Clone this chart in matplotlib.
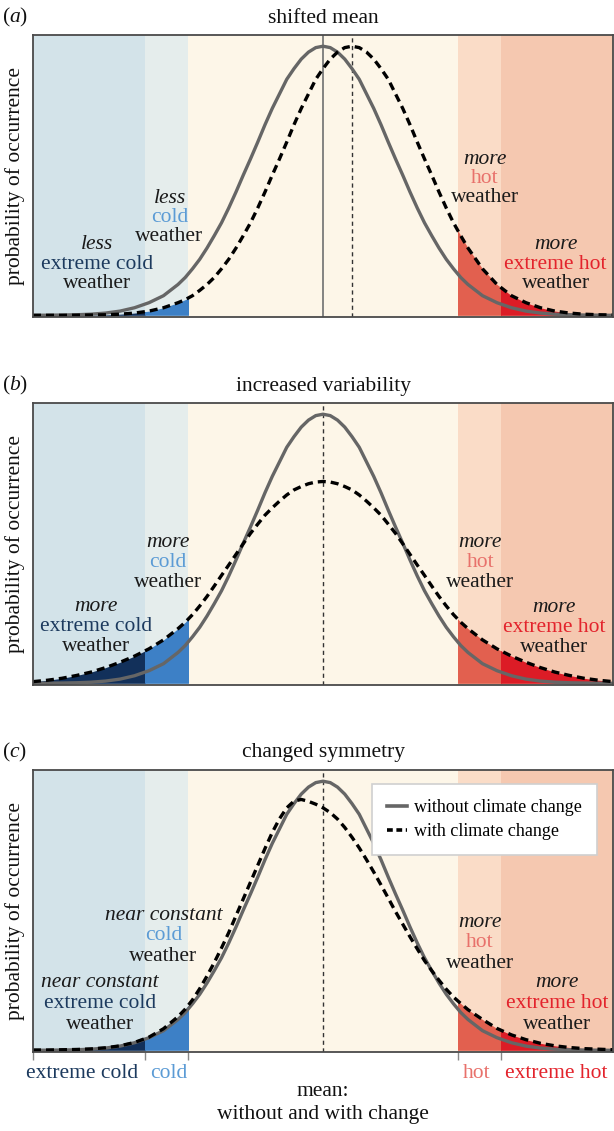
import matplotlib.pyplot as plt
from matplotlib.patches import Rectangle
from matplotlib.lines import Line2D

plt.rcParams['font.family'] = 'serif'
plt.rcParams['font.serif'] = ['Liberation Serif', 'DejaVu Serif']
plt.rcParams['mathtext.fontset'] = 'custom'
plt.rcParams['mathtext.rm'] = 'Liberation Serif'
plt.rcParams['mathtext.it'] = 'Liberation Serif:italic'

# temperature axis, mean (without change) at 0
x = [-4.0, -3.8, -3.6, -3.4, -3.2, -3.0, -2.8, -2.6, -2.4, -2.2,
     -2.0, -1.9, -1.8, -1.7, -1.6, -1.5, -1.4, -1.3, -1.2, -1.1,
     -1.0, -0.9, -0.8, -0.7, -0.6, -0.5, -0.4, -0.3, -0.2, -0.1,
     0.0,
     0.1, 0.2, 0.3, 0.4, 0.5, 0.6, 0.7, 0.8, 0.9, 1.0,
     1.1, 1.2, 1.3, 1.4, 1.5, 1.6, 1.7, 1.8, 1.9, 2.0,
     2.2, 2.4, 2.6, 2.8, 3.0, 3.2, 3.4, 3.6, 3.8, 4.0]

# probability of occurrence (fraction of the axes height)
without_change = [0.0, 0.0005, 0.001, 0.002, 0.004, 0.008, 0.015, 0.027, 0.045, 0.07,
                  0.11, 0.135, 0.166, 0.20, 0.24, 0.284, 0.33, 0.383, 0.44, 0.50,
                  0.558, 0.618, 0.68, 0.738, 0.79, 0.842, 0.88, 0.914, 0.939, 0.955,
                  0.96,
                  0.955, 0.939, 0.914, 0.88, 0.842, 0.79, 0.738, 0.68, 0.618, 0.558,
                  0.50, 0.44, 0.383, 0.33, 0.284, 0.24, 0.20, 0.166, 0.135, 0.11,
                  0.07, 0.045, 0.027, 0.015, 0.008, 0.004, 0.002, 0.001, 0.0005, 0.0]

shifted_mean = [0.0, 0.0, 0.0, 0.0005, 0.001, 0.002, 0.004, 0.008, 0.015, 0.027,
                0.045, 0.056, 0.07, 0.089, 0.11, 0.135, 0.166, 0.20, 0.24, 0.284,
                0.33, 0.383, 0.44, 0.50, 0.558, 0.618, 0.68, 0.738, 0.79, 0.842,
                0.88,
                0.914, 0.939, 0.955, 0.96, 0.955, 0.939, 0.914, 0.88, 0.842, 0.79,
                0.738, 0.68, 0.618, 0.558, 0.50, 0.44, 0.383, 0.33, 0.284, 0.24,
                0.166, 0.11, 0.07, 0.045, 0.027, 0.015, 0.008, 0.004, 0.002, 0.001]

increased_variability = [0.006, 0.011, 0.018, 0.028, 0.04, 0.056, 0.075, 0.097, 0.123, 0.155,
                         0.195, 0.218, 0.245, 0.276, 0.31, 0.347, 0.385, 0.422, 0.46, 0.498,
                         0.535, 0.568, 0.60, 0.626, 0.65, 0.672, 0.69, 0.702, 0.712, 0.718,
                         0.72,
                         0.718, 0.712, 0.702, 0.69, 0.672, 0.65, 0.626, 0.60, 0.568, 0.535,
                         0.498, 0.46, 0.422, 0.385, 0.347, 0.31, 0.276, 0.245, 0.218, 0.195,
                         0.155, 0.123, 0.097, 0.075, 0.056, 0.04, 0.028, 0.018, 0.011, 0.006]

changed_symmetry = [0.001, 0.001, 0.002, 0.003, 0.005, 0.009, 0.016, 0.028, 0.047, 0.077,
                    0.12, 0.147, 0.18, 0.22, 0.265, 0.313, 0.365, 0.42, 0.48, 0.54,
                    0.60, 0.66, 0.72, 0.777, 0.826, 0.865, 0.889, 0.895, 0.888, 0.878,
                    0.865,
                    0.848, 0.825, 0.795, 0.76, 0.722, 0.68, 0.636, 0.59, 0.543, 0.495,
                    0.45, 0.405, 0.362, 0.32, 0.284, 0.25, 0.218, 0.19, 0.167, 0.145,
                    0.11, 0.078, 0.055, 0.038, 0.025, 0.016, 0.01, 0.006, 0.004, 0.002]

changed = [shifted_mean, increased_variability, changed_symmetry]
mean_with_change = [0.4, 0.0, 0.0]

# category thresholds
edges = [-4.0, -2.45, -1.86, 1.86, 2.45, 4.0]
categories = ['extreme cold', 'cold', 'hot', 'extreme hot']

titles = ['shifted mean', 'increased variability', 'changed symmetry']
tags = ['a', 'b', 'c']
qualifiers = [['less', 'less', 'more', 'more'],
              ['more', 'more', 'more', 'more'],
              ['near constant', 'near constant', 'more', 'more']]

# styles
band_colors = ['#d3e3e9', '#e5edec', '#fdf6e8', '#fadcc7', '#f5c8b0']
fill_colors = ['#12305a', '#3d80c6', None, '#e2604f', '#dc1c26']
label_colors = ['#1c3a5e', '#5b9bd5', '#e8716b', '#e3232c']
fs = 15.5

# layout (pixels in a 614x1131 figure)
W, H = 614, 1131
tops = [35, 403, 770]
ax_h = 282
groups = [
    [(-3.12, 0.252), (-2.117, 0.418), (2.234, 0.557), (3.21, 0.252)],
    [(-3.13, 0.274), (-2.14, 0.502), (2.17, 0.502), (3.19, 0.27)],
    [(-3.08, 0.241), (-2.2, 0.482), (2.16, 0.457), (3.23, 0.241)],
]
steps = [0.069, 0.071, 0.074]

fig = plt.figure(figsize=(W / 100, H / 100), dpi=100)

for i in range(3):
    top = tops[i]
    ax = fig.add_axes([33 / W, 1 - (top + ax_h) / H, 580 / W, ax_h / H])
    ax.set_xlim(-4, 4)
    ax.set_ylim(-0.006, 1)

    # background bands
    for k in range(5):
        ax.axvspan(edges[k], edges[k + 1], color=band_colors[k], lw=0, zorder=0)

    # filled tails under the changed distribution
    for k in range(5):
        if fill_colors[k] is None:
            continue
        poly = ax.fill_between(x, 0, changed[i], color=fill_colors[k], lw=0, zorder=1)
        clip = Rectangle((edges[k], -1), edges[k + 1] - edges[k], 3, transform=ax.transData)
        poly.set_clip_path(clip)

    # mean lines
    if i == 0:
        ax.axvline(0, color='#7a7a7a', lw=1.3, zorder=2)
    ax.axvline(mean_with_change[i], color='#333333', lw=1.0, ls=(0, (3, 2.5)), zorder=2)

    ax.plot(x, without_change, color='#666666', lw=2.4, zorder=3,
            solid_joinstyle='round')
    ax.plot(x, changed[i], color='black', lw=2.4, ls=(0, (2.4, 1.5)), zorder=4)

    for s in ax.spines.values():
        s.set_color('#4a4a4a')
        s.set_linewidth(1.3)
        s.set_zorder(5)
    ax.set_yticks([])

    if i == 2:
        ax.set_xticks(edges[:-1])
        ax.tick_params(axis='x', length=6, width=1, color='#888888', labelbottom=False)
    else:
        ax.set_xticks([])

    ax.set_title(titles[i], fontsize=fs, pad=9, color='#111111')
    fig.text(2 / W, 1 - (top - 13) / H, '($\\mathit{%s}$)' % tags[i], fontsize=fs,
             va='baseline', ha='left', color='#111111')
    fig.text(15.5 / W, 1 - (top + ax_h / 2) / H, 'probability of occurrence',
             rotation=90, ha='center', va='center', fontsize=fs, color='#111111')

    # annotations
    for k in range(4):
        gx, gy = groups[i][k]
        st = steps[i]
        ax.text(gx, gy, qualifiers[i][k], style='italic', fontsize=fs,
                ha='center', va='center', color='#1a1a1a', zorder=6)
        ax.text(gx, gy - st, categories[k], fontsize=fs,
                ha='center', va='center', color=label_colors[k], zorder=6)
        ax.text(gx, gy - 2 * st, 'weather', fontsize=fs,
                ha='center', va='center', color='#1a1a1a', zorder=6)

    if i == 2:
        handles = [Line2D([], [], color='#666666', lw=2.6),
                   Line2D([], [], color='black', lw=2.6, ls=(0, (1.6, 1.0)))]
        leg = ax.legend(handles, ['without climate change', 'with climate change'],
                        loc='upper right', bbox_to_anchor=(0.972, 0.95),
                        borderaxespad=0, fontsize=13, frameon=True, fancybox=False,
                        framealpha=1, handlelength=1.1, handletextpad=0.35,
                        borderpad=0.85, labelspacing=0.36)
        leg.get_frame().set_edgecolor('#d0d0d0')
        leg.get_frame().set_linewidth(1.2)
        leg.set_zorder(7)

        tr = ax.get_xaxis_transform()
        yb = -21 / ax_h
        ax.text(-2.55, yb, 'extreme cold', transform=tr, ha='right', va='center',
                fontsize=fs, color=label_colors[0])
        ax.text(-1.87, yb, 'cold', transform=tr, ha='right', va='center',
                fontsize=fs, color=label_colors[1])
        ax.text(1.93, yb, 'hot', transform=tr, ha='left', va='center',
                fontsize=fs, color=label_colors[2])
        ax.text(2.51, yb, 'extreme hot', transform=tr, ha='left', va='center',
                fontsize=fs, color=label_colors[3])
        ax.text(0, -39 / ax_h, 'mean:', transform=tr, ha='center', va='center',
                fontsize=fs, color='#111111')
        ax.text(0, -62 / ax_h, 'without and with change', transform=tr,
                ha='center', va='center', fontsize=fs, color='#111111')

fig.savefig('out.png', dpi=100)
